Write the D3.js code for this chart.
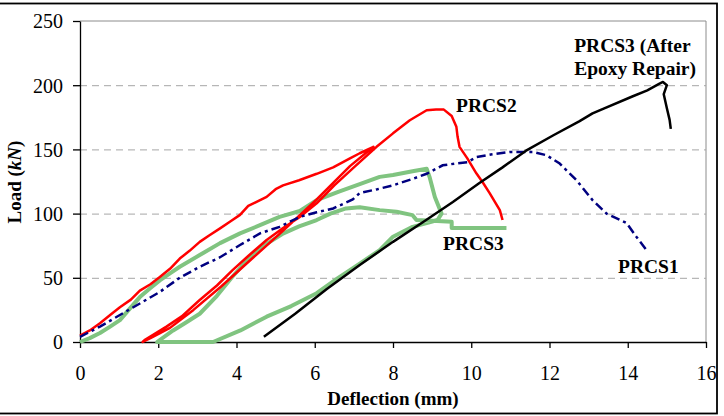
<!DOCTYPE html>
<html>
<head>
<meta charset="utf-8">
<script src="https://cdn.jsdelivr.net/npm/d3@7"></script>
<style>
  body { margin: 0; background: #fff; }
  svg { display: block; }
  text { font-family: "Liberation Serif", "Times New Roman", serif; }
</style>
</head>
<body>
<svg></svg>
<script>
// ---- data (deflection mm, load kN) ----
const xTicks = [0, 2, 4, 6, 8, 10, 12, 14, 16];
const yTicks = [0, 50, 100, 150, 200, 250];
const gridLoads = [50, 100, 150, 200];

// PRCS1 - single monotonic test
const prcs1 = [
    [0, 4], [0.51, 12], [1.02, 21], [1.53, 30], [2.04, 39], [2.55, 50], [3.06, 58.6],
    [3.58, 66], [4.09, 75.5], [4.6, 84.6], [5.1, 89.7], [5.62, 97.5], [6.05, 101],
    [6.47, 104], [6.97, 111], [7.15, 116], [7.6, 119], [8.0, 122], [8.5, 127],
    [8.86, 131], [9.27, 137.6], [9.6, 139], [9.9, 140], [10.13, 144], [10.5, 146],
    [10.98, 148], [11.57, 148], [11.92, 145.5], [12.26, 139], [12.69, 126],
    [13.1, 110.5], [13.46, 100], [13.97, 92.6], [14.22, 82], [14.48, 71.6]
];

// PRCS2 - load, unload, reload to failure
const prcs2 = [
    [0, 5], [0.25, 9], [0.51, 14.6], [0.77, 21], [1.02, 27], [1.3, 33], [1.53, 40],
    [1.8, 45], [2.04, 50.6], [2.3, 57], [2.55, 65], [2.8, 71], [3.06, 78], [3.3, 83],
    [3.58, 88.5], [3.85, 94], [4.09, 99], [4.3, 106], [4.5, 109], [4.77, 113],
    [5.0, 119], [5.19, 122], [5.6, 126], [6.05, 131], [6.47, 136], [6.9, 143],
    [7.15, 147], [7.5, 152],
    // unloading
    [6.9, 137], [6.05, 111], [5.2, 87], [4.4, 65], [3.6, 43], [2.9, 25], [2.3, 11],
    [1.8, 3], [1.6, 0],
    // reloading
    [1.65, 1.5], [2.21, 12], [2.6, 20], [3.06, 32.7], [3.5, 44], [3.9, 56], [4.3, 67],
    [4.77, 79.4], [5.2, 89], [5.6, 97], [6.05, 108], [6.5, 122], [7.0, 136],
    [7.58, 152], [8.0, 162.5], [8.43, 172.7], [8.86, 180.5], [9.1, 181], [9.3, 181],
    [9.5, 176], [9.62, 167.6], [9.65, 160], [9.7, 152], [9.9, 143], [10.13, 131.4],
    [10.3, 124], [10.47, 116], [10.73, 102.7], [10.8, 95]
];

// PRCS3 - load, unload, reload
const prcs3 = [
    [0, 0], [0.25, 3], [0.51, 7], [0.77, 12], [1.02, 17], [1.3, 27], [1.53, 35],
    [1.8, 42], [2.04, 48], [2.3, 53.5], [2.55, 58.6], [3.06, 67.7], [3.58, 77],
    [4.09, 84.6], [4.6, 91], [5.1, 97.5], [5.62, 102], [6.05, 110.5], [6.6, 117],
    [7.15, 123], [7.66, 128.6], [8.0, 130], [8.5, 133], [8.86, 135], [8.94, 128],
    [9.07, 113], [9.24, 100], [9.14, 95],
    // unloading
    [8.86, 92.6], [8.5, 89.7], [8.0, 82], [7.66, 71.6], [7.15, 61], [6.6, 50],
    [6.05, 38], [5.4, 28], [4.77, 19.7], [4.1, 9], [3.4, 0], [1.97, 0],
    // reloading
    [2.38, 9], [2.7, 15], [3.06, 22], [3.5, 36], [3.9, 51], [4.43, 69], [4.8, 77],
    [5.2, 84.6], [5.6, 90], [6.05, 95], [6.4, 100], [6.8, 104], [7.15, 105],
    [7.66, 102.7], [8.09, 101.4], [8.5, 98.8], [8.6, 95], [9.0, 94.5], [9.5, 93.6],
    [9.5, 88.7], [10.9, 88.7]
];

// PRCS3 after epoxy repair
const prcs3Repair = [
    [4.7, 4], [5.5, 22], [6.3, 41], [7.15, 60], [8.0, 78], [8.8, 94], [9.53, 109],
    [10.2, 123.6], [10.8, 136], [11.4, 149], [12.1, 161], [12.77, 172], [13.1, 178],
    [13.4, 182], [14.1, 191], [14.5, 196], [14.8, 201], [14.9, 202.5], [15.0, 200],
    [14.92, 193], [15.0, 182], [15.07, 173], [15.1, 166]
];

const seriesLabels = [
    {lines: ["PRCS2"], x: 9.61, y: 179},
    {lines: ["PRCS3 (After", "Epoxy Repair)"], x: 12.63, y: 225.5},
    {lines: ["PRCS3"], x: 9.28, y: 71.5},
    {lines: ["PRCS1"], x: 13.75, y: 53.5}
];

// ------------------- SVG ----------------------
const svgW = 724, svgH = 416;
const padL = 80, padR = 706, padT = 21, padB = 342;

const svg = d3.select("svg")
    .attr("width", svgW)
    .attr("height", svgH)
;

// outer frame
svg.append("rect")
    .attr("x", -2).attr("y", 3.5)
    .attr("width", 719).attr("height", 410)
    .attr("fill", "none")
    .attr("stroke", "#000")
    .attr("stroke-width", 1.8)
;

const xScale = d3.scaleLinear().domain([0, 16]).range([padL, padR]);
const yScale = d3.scaleLinear().domain([0, 250]).range([padB, padT]);

// plot border (top/right gray)
svg.append("path")
    .attr("d", `M${padL},${padT}H${padR}V${padB}`)
    .attr("fill", "none")
    .attr("stroke", "#8c8c8c")
    .attr("stroke-width", 1)
;

// gridlines
svg.append("g")
    .selectAll("line")
    .data(gridLoads)
    .enter()
    .append("line")
    .attr("x1", padL).attr("x2", padR)
    .attr("y1", d => yScale(d) + 0.5).attr("y2", d => yScale(d) + 0.5)
    .attr("stroke", "#a6a6a6")
    .attr("stroke-width", 1)
    .attr("stroke-dasharray", "7,5")
;

// axes
const xAxis = d3.axisBottom(xScale).tickValues(xTicks).tickSize(6).tickSizeOuter(0);
const yAxis = d3.axisLeft(yScale).tickValues(yTicks).tickSize(7).tickSizeOuter(0).tickPadding(10);

const gx = svg.append("g")
    .attr("transform", `translate(0,${padB})`)
    .call(xAxis)
;
gx.selectAll("text")
    .attr("y", 38).attr("dy", 0)
    .style("font-size", "20px").attr("fill", "#000");

const gy = svg.append("g")
    .attr("transform", `translate(${padL},0)`)
    .call(yAxis)
;
gy.selectAll("text")
    .attr("dy", "0.34em")
    .style("font-size", "20px").attr("fill", "#000");

svg.selectAll(".domain, .tick line").attr("stroke", "#000").attr("stroke-width", 1.3);
gx.attr("font-family", null);
gy.attr("font-family", null);

// axis titles
svg.append("text")
    .attr("x", (padL + padR) / 2)
    .attr("y", 405)
    .attr("text-anchor", "middle")
    .style("font-size", "19px")
    .style("font-weight", "bold")
    .text("Deflection (mm)")
;

const yTitle = svg.append("text")
    .attr("transform", `translate(21,182) rotate(-90)`)
    .attr("text-anchor", "middle")
    .style("font-size", "19px")
    .style("font-weight", "bold")
;
yTitle.append("tspan").text("Load (");
yTitle.append("tspan").style("font-style", "italic").text("kN");
yTitle.append("tspan").text(")");

// ----- curves -----
const line = d3.line()
    .x(d => xScale(d[0]))
    .y(d => yScale(d[1]))
;

svg.append("path")
    .datum(prcs3)
    .attr("d", line)
    .attr("fill", "none")
    .attr("stroke", "#80c480")
    .attr("stroke-width", 4)
    .attr("stroke-linejoin", "round")
;

svg.append("path")
    .datum(prcs2)
    .attr("d", line)
    .attr("fill", "none")
    .attr("stroke", "#ff0000")
    .attr("stroke-width", 2.5)
    .attr("stroke-linejoin", "round")
;

svg.append("path")
    .datum(prcs1)
    .attr("d", line)
    .attr("fill", "none")
    .attr("stroke", "#000080")
    .attr("stroke-width", 2.5)
    .attr("stroke-dasharray", "9,4,3,4")
;

svg.append("path")
    .datum(prcs3Repair)
    .attr("d", line)
    .attr("fill", "none")
    .attr("stroke", "#000")
    .attr("stroke-width", 2.5)
    .attr("stroke-linejoin", "round")
;

// series labels
const lbl = svg.append("g")
    .selectAll("text")
    .data(seriesLabels)
    .enter()
    .append("text")
    .attr("x", d => xScale(d.x))
    .attr("y", d => yScale(d.y))
    .style("font-size", "19.5px")
    .style("font-weight", "bold")
;
lbl.selectAll("tspan")
    .data(d => d.lines.map((t, i) => ({t, i, x: d.x})))
    .enter()
    .append("tspan")
    .attr("x", d => xScale(d.x))
    .attr("dy", d => d.i === 0 ? 0 : 22.5)
    .text(d => d.t)
;
</script>
</body>
</html>
